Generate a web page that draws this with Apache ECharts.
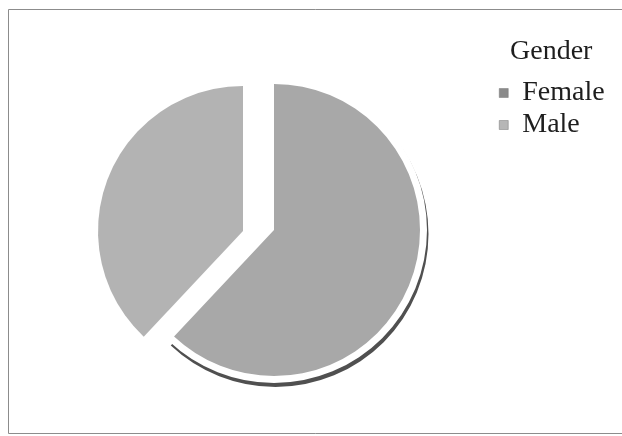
<!DOCTYPE html>
<html>
<head>
<meta charset="utf-8">
<script src="https://cdn.jsdelivr.net/npm/echarts@6/dist/echarts.min.js"></script>
<style>
  html, body { margin: 0; padding: 0; background: #ffffff; }
  #chart { width: 622px; height: 436px; }
</style>
</head>
<body>
<div id="chart"></div>
<script>
// Gender split shown as an exploded two-slice pie
var genders = ['Female', 'Male'];
var shares = [62, 38];
var sliceColors = ['#a8a8a8', '#b3b3b3'];
var legendColors = ['#8a8a8a', '#b6b6b6'];

var serifFont = '"Liberation Serif", "DejaVu Serif", serif';

// Each slice gets its own pie series so it can sit at its own exploded centre;
// the other slice in that series is left unpainted. Layers are stacked in order.
function sliceSeries(showIndex, center, radius, color, z) {
  return {
    type: 'pie',
    z: z,
    center: center,
    radius: radius,
    startAngle: 90,
    clockwise: true,
    silent: true,
    label: { show: false },
    labelLine: { show: false },
    emphasis: { disabled: true },
    data: genders.map(function (name, i) {
      return {
        name: name,
        value: shares[i],
        itemStyle: {
          color: i === showIndex ? color : 'rgba(0,0,0,0)',
          borderWidth: 0
        }
      };
    })
  };
}

var chart = echarts.init(document.getElementById('chart'), null, { renderer: 'canvas' });

chart.setOption({
  backgroundColor: '#ffffff',
  animation: false,
  title: {
    text: 'Gender',
    left: 505,
    top: 33,
    textStyle: { fontFamily: serifFont, fontSize: 28, fontWeight: 'normal', color: '#1e1e1e' }
  },
  legend: {
    orient: 'vertical',
    left: 494,
    top: 74,
    itemWidth: 9,
    itemHeight: 9,
    itemGap: 4,
    icon: 'rect',
    selectedMode: false,
    textStyle: { fontFamily: serifFont, fontSize: 28, color: '#1e1e1e', padding: [0, 0, 0, 9] },
    data: genders.map(function (name, i) {
      return { name: name, itemStyle: { color: legendColors[i], borderColor: '#777', borderWidth: 0.5 } };
    })
  },
  graphic: [{
    type: 'rect',
    silent: true,
    shape: { x: 8.5, y: 9.5, width: 618, height: 424 },
    style: { fill: 'none', stroke: '#8c8c8c', lineWidth: 1 }
  }],
  series: [
    // male slice, pulled out towards the upper left
    sliceSeries(1, [243, 231], 145, sliceColors[1], 2),
    // female slice: dark drop shadow, white rim, then the grey fill
    sliceSeries(0, [275.5, 234], 153, '#505050', 2),
    sliceSeries(0, [274, 230], 153, '#ffffff', 3),
    sliceSeries(0, [274, 230], 146, sliceColors[0], 4)
  ]
});
</script>
</body>
</html>
